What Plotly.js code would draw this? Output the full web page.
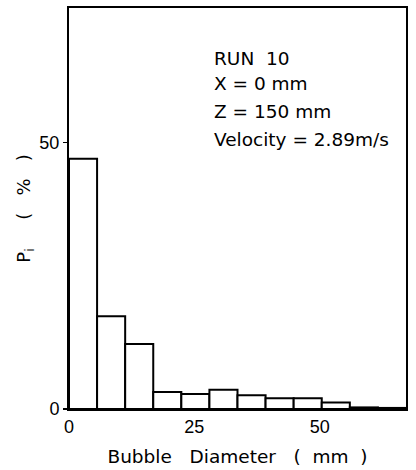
<!DOCTYPE html>
<html>
<head>
<meta charset="utf-8">
<script src="https://cdn.plot.ly/plotly-3.0.1.min.js"></script>
<style>html,body{margin:0;padding:0;background:#fff;}#chart{width:416px;height:470px;}</style>
</head>
<body>
<div id="chart"></div>
<script>
// Bubble diameter bins (mm): left edges, common width
const binLeft = [0, 5.6, 11.2, 16.8, 22.4, 28.0, 33.6, 39.2, 44.8, 50.4, 56.0, 61.6];
const binWidth = 5.6;
// Pi (%) per bin
const pi = [47.0, 17.4, 12.2, 3.2, 2.8, 3.6, 2.6, 2.0, 2.0, 1.2, 0.3, 0.2];
const xTicks = [0, 25, 50];
const yTicks = [0, 50];
const infoLines = ["RUN  10", "X = 0 mm", "Z = 150 mm", "Velocity = 2.89m/s"];

const centers = binLeft.map(v => v + binWidth / 2);
const FONT = "Liberation Sans, Arial, sans-serif";
const WIDE = "DejaVu Sans, Verdana, sans-serif";

const trace = {
  type: "bar",
  x: centers,
  y: pi,
  width: binWidth,
  marker: {color: "#ffffff", line: {color: "#000000", width: 2}},
  hoverinfo: "skip"
};

const infoY = [0.875, 0.812, 0.742, 0.672];
const annotations = infoLines.map((t, i) => ({
  text: t, xref: "paper", yref: "paper", x: 0.425, y: infoY[i],
  xanchor: "left", yanchor: "middle", showarrow: false,
  font: {family: WIDE, size: 18.5, color: "#000"}
}));

const layout = {
  width: 416, height: 470,
  margin: {l: 69, r: 10, t: 8, b: 61},
  paper_bgcolor: "#fff", plot_bgcolor: "#fff",
  showlegend: false,
  bargap: 0,
  font: {family: FONT, size: 18, color: "#000"},
  xaxis: {
    range: [0, 67.2], tickvals: xTicks, ticktext: xTicks.map(String),
    showgrid: false, zeroline: false, showline: true, mirror: true,
    linecolor: "#000", linewidth: 2, ticks: "",
    tickfont: {family: FONT, size: 18}, fixedrange: true,
    title: {text: "Bubble   Diameter   (  mm  )", font: {family: WIDE, size: 18.5}, standoff: 14}
  },
  yaxis: {
    range: [0, 75.3], tickvals: yTicks, ticktext: yTicks.map(String),
    showgrid: false, zeroline: false, showline: true, mirror: true,
    linecolor: "#000", linewidth: 2, ticks: "outside", ticklen: 4, tickwidth: 1.5, tickcolor: "#000",
    tickfont: {family: FONT, size: 18}, fixedrange: true,
    title: {text: "P<sub>i</sub>     (   %   )", font: {family: WIDE, size: 18}, standoff: 4}
  },
  annotations: annotations
};

Plotly.newPlot("chart", [trace], layout, {displayModeBar: false, staticPlot: true});
</script>
</body>
</html>
